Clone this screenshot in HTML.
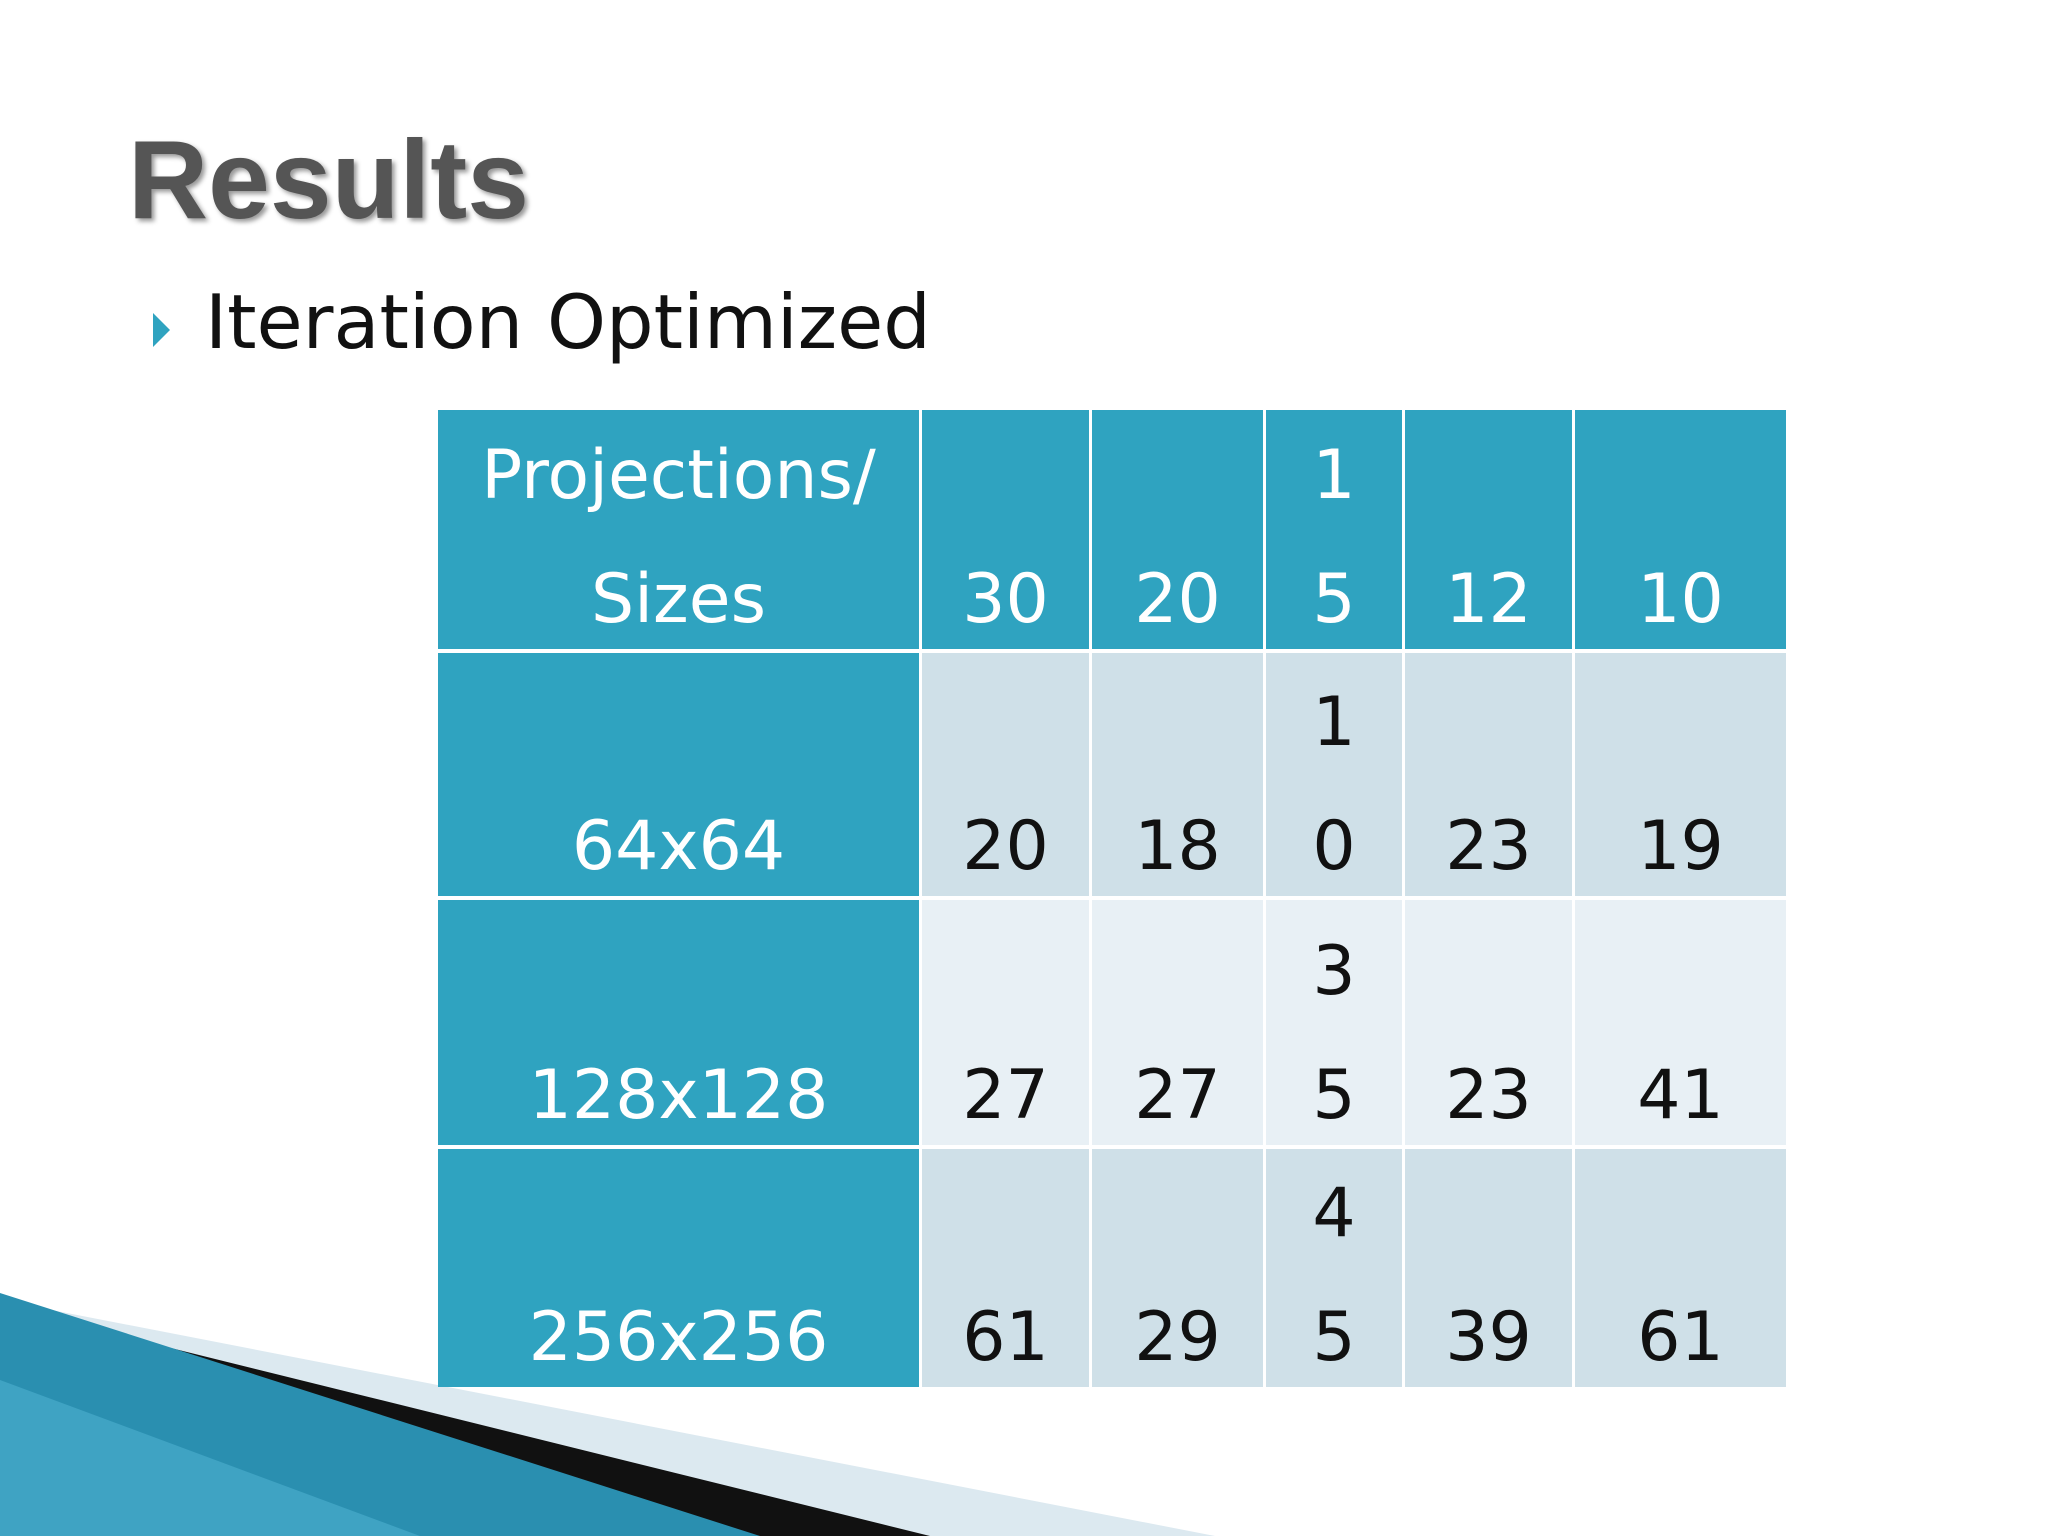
<!DOCTYPE html>
<html><head><meta charset="utf-8"><style>
body{margin:0;width:2048px;height:1536px;overflow:hidden;background:#fff;position:relative;font-family:"DejaVu Sans","Liberation Sans",sans-serif}
.c{position:absolute;box-sizing:border-box;display:flex;flex-direction:column;justify-content:flex-end;align-items:center;font-size:68px;line-height:124px;color:#111;padding-bottom:0}
.c span{display:block;position:relative;top:13px}
.h{background:#2fa3c0;color:#fff}
.a{background:#cfe0e8}
.b{background:#e8f0f5}
</style></head><body>
<div style="position:absolute;left:128px;top:116px;font-size:111px;font-weight:bold;color:#555;text-shadow:3px 3px 5px #999;font-family:'Liberation Sans',sans-serif">Results</div>
<div style="position:absolute;left:153px;top:313px;width:0;height:0;border-left:17px solid #2fa3c0;border-top:17px solid transparent;border-bottom:17px solid transparent"></div>
<div style="position:absolute;left:205px;top:278px;font-size:75px;color:#111">Iteration Optimized</div>
<svg style="position:absolute;left:0;top:0" width="2048" height="1536">
<polygon points="0,1300 1215,1536 0,1536" fill="#dce9f0"/>
<polygon points="90,1328 930,1536 700,1536 100,1334" fill="#111"/>
<polygon points="0,1293 760,1536 0,1536" fill="#2a8fb0"/>
<polygon points="0,1380 420,1536 0,1536" fill="#4fb0d0" opacity="0.6"/>
</svg>
<div id="t"></div>
<script>
const cols=["Projections/\nSizes","30","20","1\n5","12","10"];
const rowLabels=["64x64","128x128","256x256"];
const vals=[["20","18","1\n0","23","19"],["27","27","3\n5","23","41"],["61","29","4\n5","39","61"]];
const xs=[438,922,1092,1266,1405,1575,1789];
const ys=[410,653,900,1149,1391];
const t=document.getElementById('t');
function cell(x0,x1,y0,y1,cls,txt,name){
 const d=document.createElement('div');
 d.className='c '+cls;
 d.style.left=x0+'px';d.style.top=y0+'px';d.style.width=(x1-x0-3)+'px';d.style.height=(y1-y0-4)+'px';
 
 
 txt.split('\n').forEach(s=>{const sp=document.createElement('span');sp.textContent=s;d.appendChild(sp);});
 t.appendChild(d);
}
cols.forEach((c,i)=>cell(xs[i],xs[i+1],ys[0],ys[1],'h',c,'header-cell'));
rowLabels.forEach((r,j)=>{
 cell(xs[0],xs[1],ys[j+1],ys[j+2],'h',r,'row-label');
 vals[j].forEach((v,i)=>cell(xs[i+1],xs[i+2],ys[j+1],ys[j+2],j%2?'b':'a',v,'data-cell'));
});
</script>
</body></html>
